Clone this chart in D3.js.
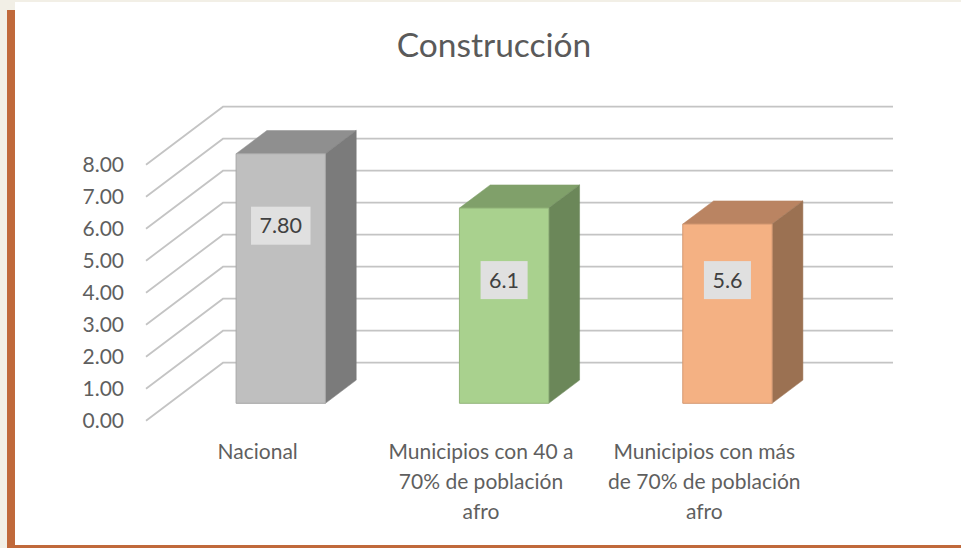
<!DOCTYPE html>
<html>
<head>
<meta charset="utf-8">
<script src="https://cdn.jsdelivr.net/npm/d3@7/dist/d3.min.js"></script>
<style>
  body { margin: 0; background: #f2efe6; }
  svg { display: block; }
  text { font-family: Lato, "Open Sans", sans-serif; }
</style>
</head>
<body>
<svg id="chart" width="961" height="548"></svg>
<script>
const title = 'Construcción';
const categories = ['Nacional', 'Municipios con 40 a 70% de población afro', 'Municipios con más de 70% de población afro'];
const values = [7.8, 6.1, 5.6];
const valueFormats = ['.2f', '.1f', '.1f'];
const yTicks = [0, 1, 2, 3, 4, 5, 6, 7, 8];
const frontColors = ['#bfbfbf', '#a9d18e', '#f4b183'];
const topColors = ['#8f8f8f', '#80a06a', '#ba8462'];
const sideColors = ['#7b7b7b', '#6b8759', '#9b7152'];

const svg = d3.select('#chart');

// page frame
svg.append('rect').attr('width', 961).attr('height', 548).attr('fill', '#f2efe6');
svg.append('rect').attr('x', 15).attr('y', 2).attr('width', 946).attr('height', 543).attr('fill', '#fff');
svg.append('rect').attr('x', 7).attr('y', 10).attr('width', 8).attr('height', 538).attr('fill', '#c0693b');
svg.append('rect').attr('x', 7).attr('y', 545).attr('width', 954).attr('height', 3).attr('fill', '#c0693b');

// oblique projection: depth 0 = front of the floor, depth 1 = back wall
const depthX = 77, depthY = 58;
const x = d3.scaleBand().domain(categories).range([146, 816]).paddingInner(0.6).paddingOuter(0.3);
const y = d3.scaleLinear().domain([0, 8]).range([420.7, 164.7]);
const P = (px, v, d) => [px + d * depthX, y(v) - d * depthY];

svg.append('text')
  .attr('x', 494).attr('y', 57)
  .attr('text-anchor', 'middle')
  .attr('font-size', 33.5)
  .attr('fill', '#5a5a5a')
  .text(title);

// walls' gridlines
const grid = svg.append('g');
yTicks.forEach(t => {
  const a = P(x.range()[0], t, 0), b = P(x.range()[0], t, 1), c = P(x.range()[1], t, 1);
  grid.append('polyline')
    .attr('points', [a, b, c].map(p => p.join(',')).join(' '))
    .attr('fill', 'none')
    .attr('stroke', '#c4c4c4')
    .attr('stroke-width', 1.8);
});

svg.append('g').selectAll('text')
  .data(yTicks)
  .join('text')
  .attr('x', 124)
  .attr('y', d => y(d))
  .attr('dy', '0.35em')
  .attr('text-anchor', 'end')
  .attr('font-size', 21)
  .attr('fill', '#5f5f5f')
  .text(d => d3.format('.2f')(d));

// bars
const d0 = 0.3, d1 = 0.7;
const bars = svg.append('g');
categories.forEach((cat, i) => {
  const xl = x(cat), xr = x(cat) + x.bandwidth(), v = values[i];
  const pts = arr => arr.map(p => p.join(',')).join(' ');
  bars.append('polygon')
    .attr('points', pts([P(xl, v, d0), P(xl, v, d1), P(xr, v, d1), P(xr, v, d0)]))
    .attr('fill', topColors[i]).attr('stroke', topColors[i]).attr('stroke-opacity', 0.5);
  bars.append('polygon')
    .attr('points', pts([P(xr, 0, d0), P(xr, v, d0), P(xr, v, d1), P(xr, 0, d1)]))
    .attr('fill', sideColors[i]).attr('stroke', sideColors[i]).attr('stroke-opacity', 0.5);
  bars.append('polygon')
    .attr('points', pts([P(xl, 0, d0), P(xl, v, d0), P(xr, v, d0), P(xr, 0, d0)]))
    .attr('fill', frontColors[i]).attr('stroke', d3.color(frontColors[i]).darker(0.4)).attr('stroke-width', 1);
});

// data labels (placed where the original put them)
const labelAt = [5.55, 3.85, 3.85];
categories.forEach((cat, i) => {
  const [cx, cy] = P(x(cat) + x.bandwidth() / 2, labelAt[i], d0);
  const g = svg.append('g');
  const box = g.append('rect').attr('fill', '#e0e0e0');
  const t = g.append('text')
    .attr('x', cx).attr('y', cy).attr('dy', '0.35em')
    .attr('text-anchor', 'middle')
    .attr('font-size', 21.5)
    .attr('fill', '#404040')
    .text(d3.format(valueFormats[i])(values[i]));
  const w = t.node().getComputedTextLength() + 17;
  box.attr('x', cx - w / 2).attr('y', cy - 19).attr('width', w).attr('height', 38);
});

// category labels, wrapped
const catLabels = svg.append('g');
categories.forEach(cat => {
  const cx = x(cat) + x.bandwidth() / 2;
  const t = catLabels.append('text')
    .attr('x', cx).attr('y', 459)
    .attr('text-anchor', 'middle')
    .attr('font-size', 21)
    .attr('fill', '#5f5f5f');
  const words = cat.split(' ');
  let line = [];
  let span = t.append('tspan').attr('x', cx).attr('dy', 0);
  words.forEach(w => {
    line.push(w);
    span.text(line.join(' '));
    if (span.node().getComputedTextLength() > 200 && line.length > 1) {
      line.pop();
      span.text(line.join(' '));
      line = [w];
      span = t.append('tspan').attr('x', cx).attr('dy', 30).text(w);
    }
  });
});
</script>
</body>
</html>
